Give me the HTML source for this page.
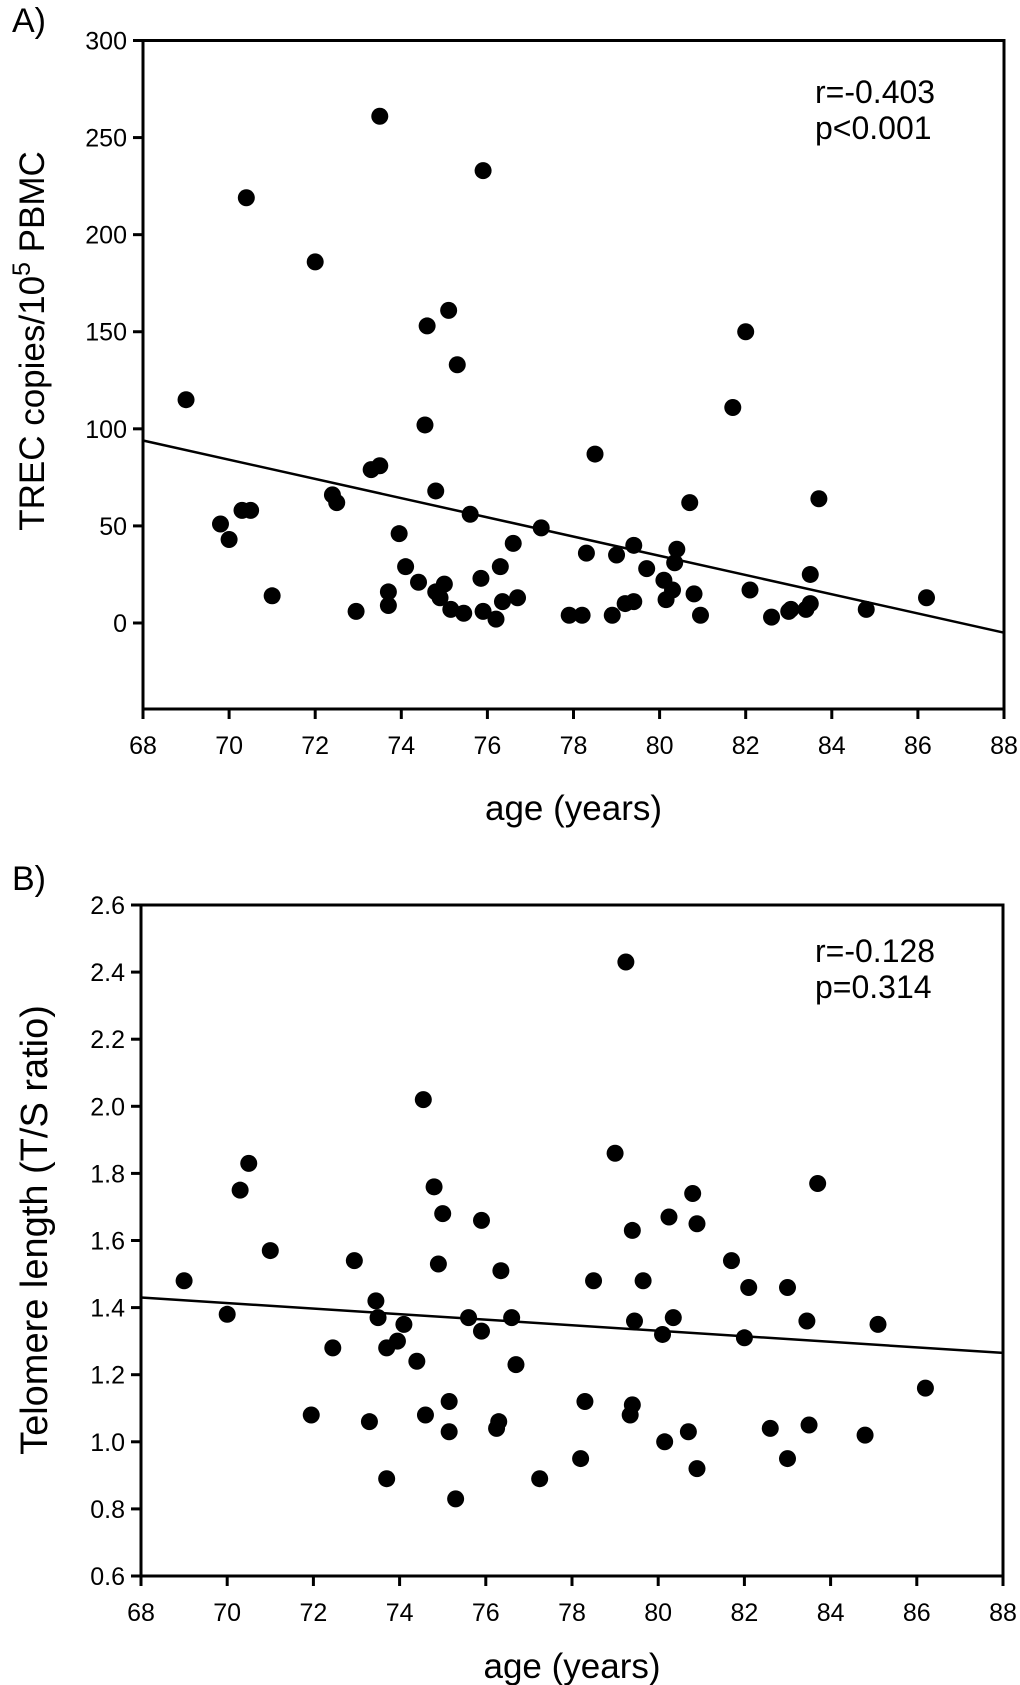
<!DOCTYPE html>
<html><head><meta charset="utf-8"><style>
html,body{margin:0;padding:0;background:#fff;}
svg{display:block;font-family:"Liberation Sans",Arial,sans-serif;}
</style></head><body>
<svg id="fig" width="1020" height="1685" viewBox="0 0 1020 1685"></svg>
<script>
const xTicks=[68,70,72,74,76,78,80,82,84,86,88];
const aTicks=[0,50,100,150,200,250,300];
const bTicks=[0.6,0.8,1.0,1.2,1.4,1.6,1.8,2.0,2.2,2.4,2.6];
const aAge=[69.0,69.8,70.0,70.3,70.4,70.5,71.0,72.0,72.4,72.5,72.95,73.3,73.5,73.5,73.7,73.7,73.95,74.1,74.4,74.55,74.6,74.8,74.8,74.9,75.0,75.1,75.15,75.3,75.45,75.6,75.85,75.9,75.9,76.2,76.3,76.35,76.6,76.7,77.25,77.9,78.2,78.3,78.5,78.9,79.0,79.2,79.4,79.4,79.7,80.1,80.15,80.3,80.35,80.4,80.7,80.8,80.95,81.7,82.0,82.1,82.6,83.0,83.05,83.4,83.5,83.5,83.7,84.8,86.2];
const aTrec=[115,51,43,58,219,58,14,186,66,62,6,79,81,261,9,16,46,29,21,102,153,16,68,13,20,161,7,133,5,56,23,233,6,2,29,11,41,13,49,4,4,36,87,4,35,10,40,11,28,22,12,17,31,38,62,15,4,111,150,17,3,6,7,7,25,10,64,7,13];
const aFit=[94,-5];
const bAge=[69.0,70.0,70.3,70.5,71.0,71.95,72.45,72.95,73.3,73.45,73.5,73.7,73.7,73.95,74.1,74.4,74.55,74.6,74.8,74.9,75.0,75.15,75.15,75.3,75.6,75.9,75.9,76.25,76.3,76.35,76.6,76.7,77.25,78.2,78.3,78.5,79.0,79.25,79.35,79.4,79.4,79.45,79.65,80.1,80.15,80.25,80.35,80.7,80.8,80.9,80.9,81.7,82.0,82.1,82.6,83.0,83.0,83.45,83.5,83.7,84.8,85.1,86.2];
const bTel=[1.48,1.38,1.75,1.83,1.57,1.08,1.28,1.54,1.06,1.42,1.37,0.89,1.28,1.30,1.35,1.24,2.02,1.08,1.76,1.53,1.68,1.12,1.03,0.83,1.37,1.66,1.33,1.04,1.06,1.51,1.37,1.23,0.89,0.95,1.12,1.48,1.86,2.43,1.08,1.63,1.11,1.36,1.48,1.32,1.00,1.67,1.37,1.03,1.74,1.65,0.92,1.54,1.31,1.46,1.04,1.46,0.95,1.36,1.05,1.77,1.02,1.35,1.16];
const bFit=[1.43,1.265];

const NS='http://www.w3.org/2000/svg';
const svg=document.getElementById('fig');
function mk(tag,attrs,parent){const e=document.createElementNS(NS,tag);for(const k in attrs)e.setAttribute(k,attrs[k]);(parent||svg).appendChild(e);return e;}

function panel(cfg){
  const g=mk('g',{});
  
  
  const X=v=>cfg.x0+(v-68)/20*(cfg.x1-cfg.x0);
  const Y=v=>cfg.yb+(v-cfg.ymin)/(cfg.ymax-cfg.ymin)*(cfg.yt-cfg.yb);
  const frame=mk('rect',{x:cfg.x0,y:cfg.yt,width:cfg.x1-cfg.x0,height:cfg.yb-cfg.yt,fill:'none',stroke:'#000','stroke-width':3},g);
  
  
  cfg.yTicks.forEach(v=>{
    const t=mk('line',{x1:cfg.x0-10,x2:cfg.x0,y1:Y(v),y2:Y(v),stroke:'#000','stroke-width':3},g);
    
    
    const l=mk('text',{x:cfg.x0-16,y:Y(v)+9,'text-anchor':'end','font-size':25},g);
    l.textContent=cfg.fmt(v);
    
    
  });
  xTicks.forEach(v=>{
    const t=mk('line',{x1:X(v),x2:X(v),y1:cfg.yb,y2:cfg.yb+10,stroke:'#000','stroke-width':3},g);
    
    
    const l=mk('text',{x:X(v),y:cfg.yb+45,'text-anchor':'middle','font-size':25},g);
    l.textContent=v;
    
    
  });
  const fit=mk('line',{x1:X(68),y1:Y(cfg.fit[0]),x2:X(88),y2:Y(cfg.fit[1]),stroke:'#000','stroke-width':2.5},g);
  
  
  cfg.xs.forEach((a,i)=>{
    const c=mk('circle',{cx:X(a),cy:Y(cfg.ys[i]),r:8.5,fill:'#000'},g);
    
    
  });
  const xt=mk('text',{x:(cfg.x0+cfg.x1)/2,y:cfg.xTitleY,'text-anchor':'middle','font-size':35},g);
  xt.textContent='age (years)';
  
  
  const yt=mk('text',{x:0,y:0,'text-anchor':'middle','font-size':cfg.yTitleSize,transform:`translate(${cfg.yTitleX},${cfg.yTitleY}) rotate(-90)`},g);
  yt.innerHTML=cfg.yTitle;
  
  
  cfg.ann.forEach((s,i)=>{
    const a=mk('text',{x:cfg.annX,y:cfg.annY+i*36,'text-anchor':'start','font-size':32},g);
    a.textContent=s;
    
    
  });
  const pl=mk('text',{x:12,y:cfg.labelY,'font-size':34},g);
  pl.textContent=cfg.label;
  
  
}

panel({name:'panel-a-trec',x0:143,x1:1004,yt:40.5,yb:709,ymin:-44.3,ymax:300,yTicks:aTicks,fmt:v=>String(v),
  xs:aAge,ys:aTrec,fit:aFit,xTitleY:820,yTitleX:44,yTitleY:341,yTitleSize:35,
  yTitle:'TREC copies/10<tspan dy="-14" font-size="25">5</tspan><tspan dy="14"> PBMC</tspan>',
  ann:['r=-0.403','p<0.001'],annX:815,annY:103,label:'A)',labelY:32});
panel({name:'panel-b-telomere',x0:141,x1:1003,yt:905,yb:1576,ymin:0.6,ymax:2.6,yTicks:bTicks,fmt:v=>v.toFixed(1),
  xs:bAge,ys:bTel,fit:bFit,xTitleY:1678,yTitleX:47,yTitleY:1230,yTitleSize:38,
  yTitle:'Telomere length (T/S ratio)',
  ann:['r=-0.128','p=0.314'],annX:815,annY:962,label:'B)',labelY:890});
</script>
</body></html>
